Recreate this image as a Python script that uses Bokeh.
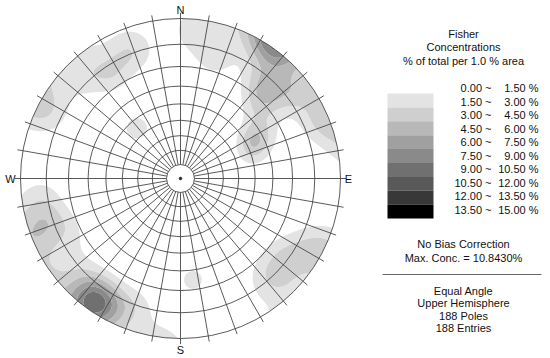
import numpy as np
from bokeh.plotting import figure
from bokeh.models import Range1d
from bokeh.core.properties import value
from bokeh.embed import file_html
from bokeh.resources import INLINE

# ---- data (plotted trend / plunge of pole groups) ----
pole_trend  = [215, 212, 221, 206, 199, 232, 251, 258, 244, 263, 6, 16, 44, 47, 50, 38, 63, 57, 70, 68, 54,
               339, 326, 315, 297, 319, 125, 139, 117, 132, 173]
pole_plunge = [3.5, 2, 7, 6, 9, 10, 9, 5, 15, 8, 4, 13, 16, 24, 9, 10, 35, 28, 40, 2, 4,
               9, 13, 6, 4, 45, 10, 9, 4, 15, 25]
pole_count  = [20, 3, 4, 4, 4, 3, 6, 3, 3, 3, 6, 6, 9, 3, 4, 4, 9, 4, 4, 8, 5,
               7, 7, 5, 6, 6, 6, 6, 5, 3, 5]
total_poles = 188
fisher_k = 70.0

level_edges = [1.5, 3.0, 4.5, 6.0, 7.5, 9.0, 10.5, 12.0, 13.5, 15.0]
band_colors = ["#e3e3e3", "#cfcfcf", "#b8b8b8", "#a0a0a0", "#8a8a8a",
               "#707070", "#595959", "#383838", "#000000"]
legend_low  = ["0.00", "1.50", "3.00", "4.50", "6.00", "7.50", "9.00", "10.50", "12.00", "13.50"]
legend_high = ["1.50", "3.00", "4.50", "6.00", "7.50", "9.00", "10.50", "12.00", "13.50", "15.00"]
ring_colat = [10, 20, 30, 40, 50, 60, 70, 80, 90]
spoke_az = list(range(0, 360, 10))
title_lines = ["Fisher", "Concentrations", "% of total per 1.0 % area"]
note_lines = ["No Bias Correction", "Max. Conc. = 10.8430%"]
info_lines = ["Equal Angle", "Upper Hemisphere", "188 Poles", "188 Entries"]

H = 358  # page height, for converting page y to data y
CX, CY, R = 180.0, 180.0, 160.0
FONT = value("Liberation Sans")
LINE = "#474747"

p = figure(width=550, height=358, x_range=Range1d(0, 550), y_range=Range1d(0, 358),
           output_backend="svg", toolbar_location=None, min_border=0,
           x_axis_type=None, y_axis_type=None)
p.grid.grid_line_color = None
p.outline_line_color = None
p.background_fill_color = "white"
p.border_fill_color = "white"

# ---- Fisher density on an equal-angle grid ----
n = 341
g = np.linspace(-1.06, 1.06, n)
gx, gy = np.meshgrid(g, g)
rr = np.hypot(gx, gy)
colat = 2 * np.arctan(rr)
az = np.arctan2(gx, gy)
vx = np.sin(colat) * np.sin(az)
vy = np.sin(colat) * np.cos(az)
vz = np.cos(colat)
z = np.zeros_like(gx)
for t, pl, c in zip(pole_trend, pole_plunge, pole_count):
    tr = np.radians(t)
    cr = np.radians(90 - pl)
    px, py, pz = np.sin(cr) * np.sin(tr), np.sin(cr) * np.cos(tr), np.cos(cr)
    d = np.abs(vx * px + vy * py + vz * pz)
    z += c * fisher_k / total_poles * np.exp(fisher_k * (d - 1.0))
z[rr > 1.04] = 0.0

X = CX + R * gx
Y = CY + R * gy
p.contour(X, Y, z, levels=level_edges, fill_color=band_colors)

# white mask outside the primitive
p.annulus(x=CX, y=CY, inner_radius=R, outer_radius=R * 1.12, fill_color="white", line_color=None)

# ---- net ----
ring_r = [R * np.tan(np.radians(c / 2)) for c in ring_colat]
p.circle(x=[CX] * len(ring_r), y=[CY] * len(ring_r), radius=ring_r,
         fill_color=None, line_color=LINE, line_width=0.9)
r0 = R * np.tan(np.radians(5))
r1 = R * 1.035
sa = np.radians(spoke_az)
p.segment(x0=CX + r0 * np.sin(sa), y0=CY + r0 * np.cos(sa),
          x1=CX + r1 * np.sin(sa), y1=CY + r1 * np.cos(sa), line_color=LINE, line_width=0.9)
p.scatter(x=[CX], y=[CY], size=2.5, color="#222222")

p.text(x=[CX, CX, 10, 348], y=[H - 9, H - 349, CY, CY], text=["N", "S", "W", "E"],
       text_font=FONT, text_font_size="11px", text_align="center", text_baseline="middle",
       text_color="#111111")

# ---- legend ----
TX = 463
p.text(x=[TX] * 3, y=[H - 33.5, H - 46.5, H - 60], text=title_lines, text_font=FONT,
       text_font_size="11px", text_align="center", text_baseline="middle", text_color="#111111")

box_top = [93 + 13.9 * i for i in range(9)]
p.quad(left=387, right=433, top=[H - t for t in box_top], bottom=[H - t - 13.9 for t in box_top],
       fill_color=band_colors, line_color=None)

row_y = [H - (87.7 + 13.5 * j) for j in range(10)]
p.text(x=[491] * 10, y=row_y, text=[f"{a} ~" for a in legend_low], text_font=FONT,
       text_font_size="11px", text_align="right", text_baseline="middle", text_color="#111111")
p.text(x=[538] * 10, y=row_y, text=[f"{b} %" for b in legend_high], text_font=FONT,
       text_font_size="11px", text_align="right", text_baseline="middle", text_color="#111111")

p.text(x=[TX] * 2, y=[H - 243.5, H - 257], text=note_lines, text_font=FONT,
       text_font_size="11px", text_align="center", text_baseline="middle", text_color="#111111")
p.segment(x0=[382], y0=[H - 274], x1=[541], y1=[H - 274], line_color="#666666", line_width=1)
p.text(x=[TX] * 4, y=[H - 290, H - 302.7, H - 315.2, H - 327.8], text=info_lines, text_font=FONT,
       text_font_size="11px", text_align="center", text_baseline="middle", text_color="#111111")

open("out.html", "w").write(file_html(p, INLINE))
